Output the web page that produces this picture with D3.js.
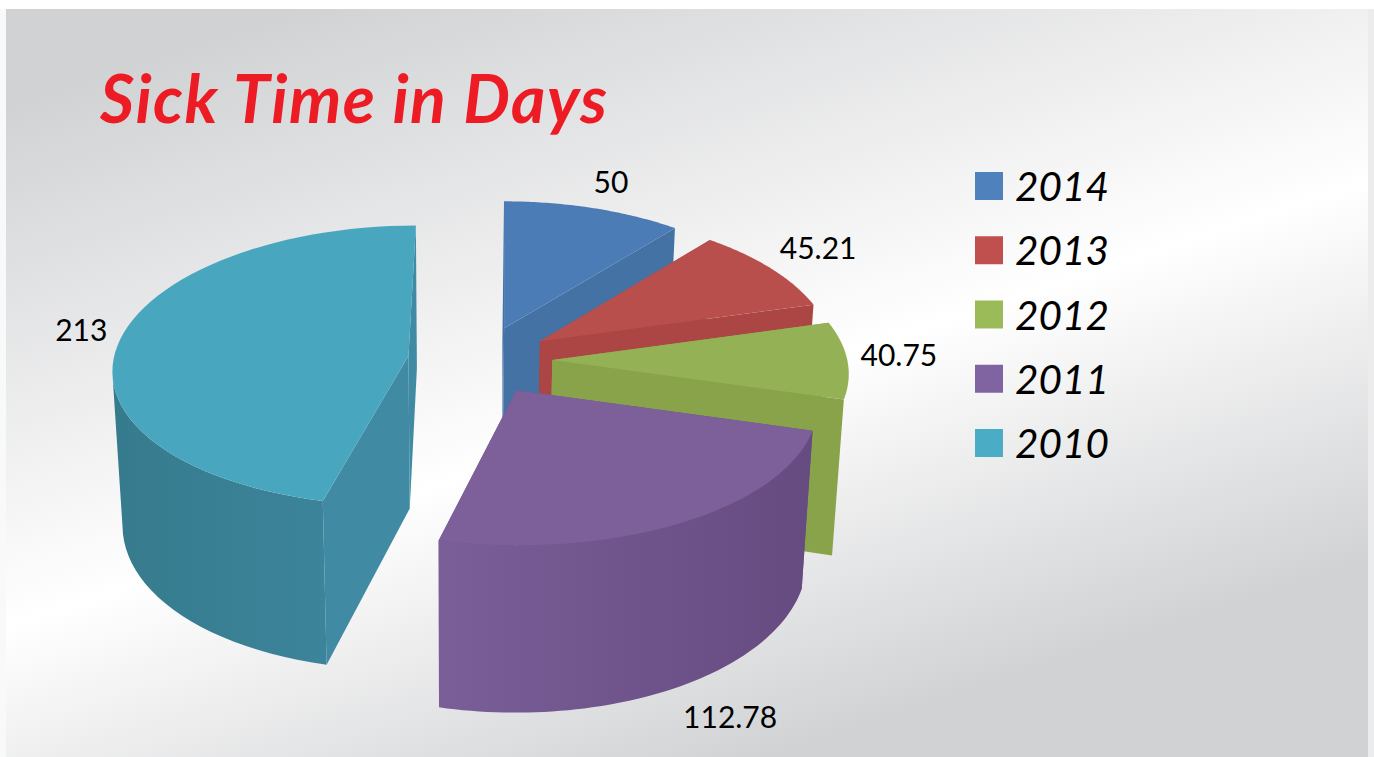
<!DOCTYPE html>
<html>
<head>
<meta charset="utf-8">
<script src="https://d3js.org/d3.v7.min.js"></script>
<style>
  body { margin: 0; background: #fff; }
  text { font-family: Lato, sans-serif; fill: #000; }
</style>
</head>
<body>
<svg width="1374" height="757"></svg>
<script>
// sick days per year, clockwise from 12 o'clock
var years = ["2014", "2013", "2012", "2011", "2010"];
var values = [50, 45.21, 40.75, 112.78, 213];
var valueLabels = ["50", "45.21", "40.75", "112.78", "213"];

var topColors = ["#4c7cb6", "#b84f4c", "#95b155", "#7d5f9a", "#49a6bf"];
var wallColors = ["#4472a4", "#ab4644", "#89a34b", "#6f548a", "#408ba3"];
var curveLeft = ["#4472a4", "#ab4644", "#89a34b", "#7a5e98", "#367b8d"];
var curveRight = ["#4472a4", "#ab4644", "#89a34b", "#654b80", "#3c849b"];
var legendColors = ["#4f81bd", "#c0504d", "#9bbb59", "#8064a2", "#4bacc6"];

// where each label sits around its slice, in pie units and pixels
var labelAngle = [0.75, 0.8, 0.5, 0.62, 0.62];
var labelReach = [1.1, 1.1, 1.1, 1.1, 1.1];
var labelNudge = [[-37, -13], [-6, -25], [22, 6], [97, 9], [-54, 52]];

var width = 1374, height = 757;
var svg = d3.select("svg");
var defs = svg.append("defs");

// projection settings for the tilted pie
var cx = 480, cy = 360, vx = 503;
var spreadX = 295, spreadY = 140, depthX = 0.085, depthY = 0.07;
var wallHeight = 153, wallDepth = 0.07, zvx = 450, zPull = 0.03;
var explode = 0.245;

function project(x, y, z) {
  var sx = vx + (cx - vx + spreadX * x) / (1 + depthX * y);
  var sy = cy - spreadY * y / (1 + depthY * y);
  if (z) {
    sx += (zvx - sx) * zPull;
    sy += wallHeight / (1 + wallDepth * y);
  }
  return [sx, sy];
}

// point on a slice: r is 0 at the apex and 1 on the rim
function slicePoint(d, angle, r, z) {
  var mid = (d.startAngle + d.endAngle) / 2;
  var x = explode * Math.sin(mid) + r * Math.sin(angle);
  var y = explode * Math.cos(mid) + r * Math.cos(angle);
  return project(x, y, z);
}

function rim(d, z) {
  return d3.range(0, 61).map(function(i) {
    return slicePoint(d, d.startAngle + (d.endAngle - d.startAngle) * i / 60, 1, z);
  });
}

var pie = d3.pie().sort(null).startAngle(0).endAngle(2 * Math.PI);
var slices = pie(values);
var line = d3.line();

// background
var bg = defs.append("linearGradient").attr("id", "bg")
  .attr("gradientUnits", "userSpaceOnUse")
  .attr("x1", 31).attr("y1", 95).attr("x2", 298).attr("y2", 912);
bg.append("stop").attr("offset", 0).attr("stop-color", "#d1d2d4");
bg.append("stop").attr("offset", 0.58).attr("stop-color", "#ffffff");
bg.append("stop").attr("offset", 1).attr("stop-color", "#d1d2d4");

svg.append("rect").attr("x", 0).attr("y", 9).attr("width", 6).attr("height", height - 9)
  .attr("fill", "#f8f9f9");
svg.append("rect").attr("x", 6).attr("y", 9).attr("width", 1362).attr("height", height - 9)
  .attr("fill", "url(#bg)");
svg.append("rect").attr("x", 1368).attr("y", 9).attr("width", 6).attr("height", height - 9)
  .attr("fill", "#ececed");

// pie, back to front
var drawOrder = [0, 1, 2, 4, 3];
drawOrder.forEach(function(i) {
  var d = slices[i];
  var g = svg.append("g").attr("class", "slice-" + years[i]);

  var topRim = rim(d, 0);
  var bottomRim = rim(d, 1);
  var apex = slicePoint(d, d.startAngle, 0, 0);
  var apexLow = slicePoint(d, d.startAngle, 0, 1);

  // cut walls
  [d.startAngle, d.endAngle].forEach(function(a) {
    g.append("path")
      .attr("d", line([apex, slicePoint(d, a, 1, 0), slicePoint(d, a, 1, 1), apexLow]) + "Z")
      .attr("fill", wallColors[i]);
  });

  // curved outer wall, only the part of the rim running towards the viewer
  var keep = d3.range(0, topRim.length).filter(function(k) {
    return (k < topRim.length - 1 && topRim[k + 1][0] < topRim[k][0]) ||
           (k > 0 && topRim[k][0] < topRim[k - 1][0]);
  });
  var upper = keep.map(function(k) { return topRim[k]; });
  var lower = keep.map(function(k) { return bottomRim[k]; });
  var xs = d3.extent(upper.concat(lower), function(p) { return p[0]; });
  if (xs[1] - xs[0] > 30) { // a sliver this thin doesn't show in the original
    var grad = defs.append("linearGradient").attr("id", "curve" + i)
      .attr("gradientUnits", "userSpaceOnUse")
      .attr("x1", xs[0]).attr("x2", xs[1]).attr("y1", 0).attr("y2", 0);
    grad.append("stop").attr("offset", 0).attr("stop-color", curveLeft[i]);
    grad.append("stop").attr("offset", 1).attr("stop-color", curveRight[i]);
    g.append("path")
      .attr("d", line(upper.concat(lower.slice().reverse())) + "Z")
      .attr("fill", "url(#curve" + i + ")");
  }

  // top face
  g.append("path")
    .attr("d", line([apex].concat(topRim)) + "Z")
    .attr("fill", topColors[i]);
});

// value labels
slices.forEach(function(d, i) {
  var a = d.startAngle + (d.endAngle - d.startAngle) * labelAngle[i];
  var p = slicePoint(d, a, labelReach[i], i === 3 ? 1 : 0);
  svg.append("text")
    .attr("x", p[0] + labelNudge[i][0])
    .attr("y", p[1] + labelNudge[i][1])
    .attr("text-anchor", "middle")
    .attr("font-size", 30)
    .text(valueLabels[i]);
});

// title
svg.append("text")
  .attr("x", 100).attr("y", 123)
  .attr("font-size", 66)
  .attr("font-weight", 700)
  .attr("font-style", "italic")
  .attr("letter-spacing", 1.5)
  .style("fill", "#ed1c24")
  .text("Sick Time in Days");

// legend
var legendY = d3.scalePoint().domain(years).range([172, 429]);
var legend = svg.selectAll(".legend").data(years).enter().append("g").attr("class", "legend");
legend.append("rect")
  .attr("x", 975).attr("y", function(d) { return legendY(d); })
  .attr("width", 28).attr("height", 28)
  .attr("fill", function(d, i) { return legendColors[i]; });
legend.append("text")
  .attr("x", 1015).attr("y", function(d) { return legendY(d) + 29; })
  .attr("font-size", 40.5)
  .attr("font-style", "italic")
  .text(function(d) { return d; });
</script>
</body>
</html>
